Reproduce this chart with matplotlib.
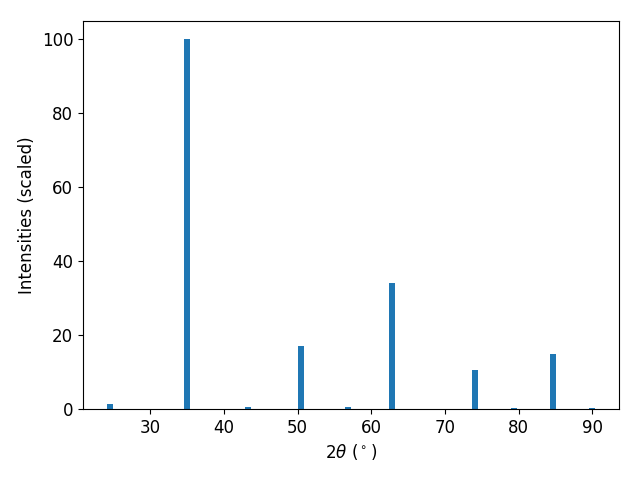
import matplotlib
matplotlib.use("Agg")
import matplotlib.pyplot as plt

two_theta = [24.57, 35.02, 43.30, 50.40, 56.84, 62.85, 74.12, 79.41, 84.70, 89.90]
intensity = [1.4, 100.0, 0.5, 17.0, 0.5, 34.2, 10.6, 0.3, 14.9, 0.3]

plt.rcParams['font.size'] = 12
fig, ax = plt.subplots(figsize=(6.4, 4.8), dpi=100)
ax.bar(two_theta, intensity, width=0.8, color='#1f77b4')
ax.set_xlabel(r'$2\theta$ ($^\circ$)')
ax.set_ylabel('Intensities (scaled)')
fig.subplots_adjust(left=83/640, right=619/640, top=1-21/480, bottom=1-409/480)
fig.savefig('out.png')
